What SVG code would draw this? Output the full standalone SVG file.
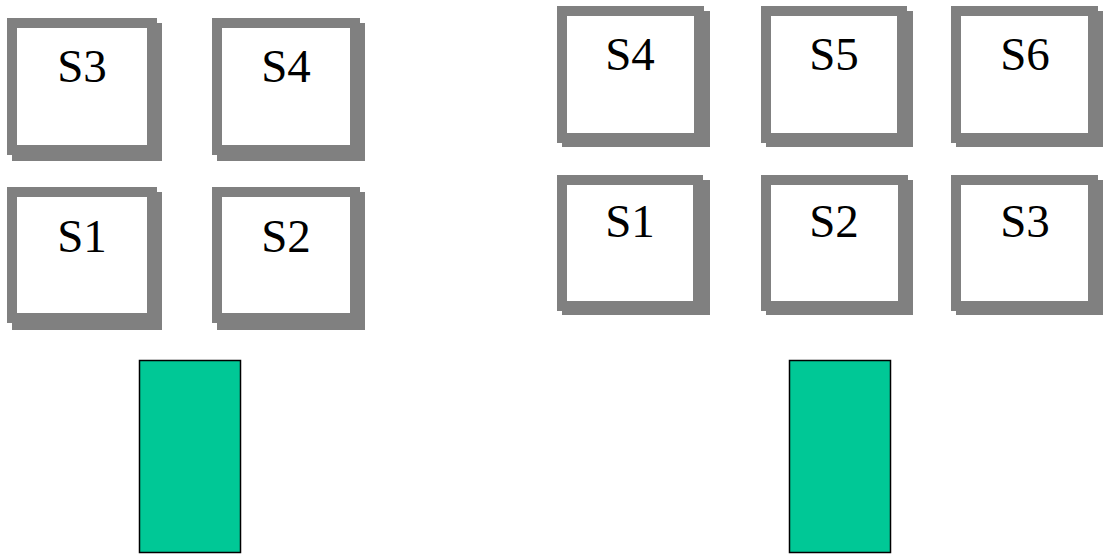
<svg xmlns="http://www.w3.org/2000/svg" width="1103" height="556" viewBox="0 0 1103 556">
<style>
.sh{fill:#808080}
.fr{fill:#808080}
.in{fill:#ffffff}
.lb{font-family:'Liberation Serif','DejaVu Serif',serif;font-size:47px;fill:#000;text-anchor:middle}
.gr{fill:#00C896;stroke:#000;stroke-width:1.5}
</style>
<rect width="1103" height="556" fill="#fff"/>
<g id="L-S3"><rect class="sh" x="12" y="23" width="150" height="138"/><rect class="fr" x="7" y="18" width="150" height="137"/><rect class="in" x="17" y="28" width="130" height="117"/><text class="lb" x="82" y="82" font-family="Liberation Serif">S3</text></g>
<g id="L-S4"><rect class="sh" x="217" y="23" width="148" height="138"/><rect class="fr" x="212" y="18" width="148" height="137"/><rect class="in" x="222" y="28" width="128" height="117"/><text class="lb" x="286" y="82" font-family="Liberation Serif">S4</text></g>
<g id="L-S1"><rect class="sh" x="12" y="192" width="150" height="138"/><rect class="fr" x="7" y="187" width="150" height="136"/><rect class="in" x="17" y="197" width="130" height="116"/><text class="lb" x="82" y="252" font-family="Liberation Serif">S1</text></g>
<g id="L-S2"><rect class="sh" x="217" y="192" width="148" height="138"/><rect class="fr" x="212" y="187" width="148" height="136"/><rect class="in" x="222" y="197" width="128" height="116"/><text class="lb" x="286" y="252" font-family="Liberation Serif">S2</text></g>
<g id="R-S4"><rect class="sh" x="562" y="11" width="148" height="136"/><rect class="fr" x="557" y="6" width="147" height="137"/><rect class="in" x="567" y="16" width="127" height="117"/><text class="lb" x="630" y="70" font-family="Liberation Serif">S4</text></g>
<g id="R-S5"><rect class="sh" x="766" y="11" width="147" height="136"/><rect class="fr" x="761" y="6" width="146" height="137"/><rect class="in" x="771" y="16" width="126" height="117"/><text class="lb" x="834" y="70" font-family="Liberation Serif">S5</text></g>
<g id="R-S6"><rect class="sh" x="956" y="11" width="147" height="136"/><rect class="fr" x="951" y="6" width="147" height="137"/><rect class="in" x="961" y="16" width="127" height="117"/><text class="lb" x="1025" y="70" font-family="Liberation Serif">S6</text></g>
<g id="R-S1"><rect class="sh" x="562" y="180" width="148" height="135"/><rect class="fr" x="557" y="175" width="146" height="136"/><rect class="in" x="567" y="185" width="126" height="116"/><text class="lb" x="630" y="237" font-family="Liberation Serif">S1</text></g>
<g id="R-S2"><rect class="sh" x="766" y="180" width="147" height="135"/><rect class="fr" x="761" y="175" width="147" height="136"/><rect class="in" x="771" y="185" width="127" height="116"/><text class="lb" x="834" y="237" font-family="Liberation Serif">S2</text></g>
<g id="R-S3"><rect class="sh" x="956" y="180" width="147" height="135"/><rect class="fr" x="951" y="175" width="147" height="136"/><rect class="in" x="961" y="185" width="127" height="116"/><text class="lb" x="1025" y="237" font-family="Liberation Serif">S3</text></g>
<g id="L-green"><rect class="gr" x="139.5" y="360.5" width="101" height="192"/></g>
<g id="R-green"><rect class="gr" x="789.5" y="360.5" width="101" height="192"/></g>
<g id="connectors"/>
</svg>
